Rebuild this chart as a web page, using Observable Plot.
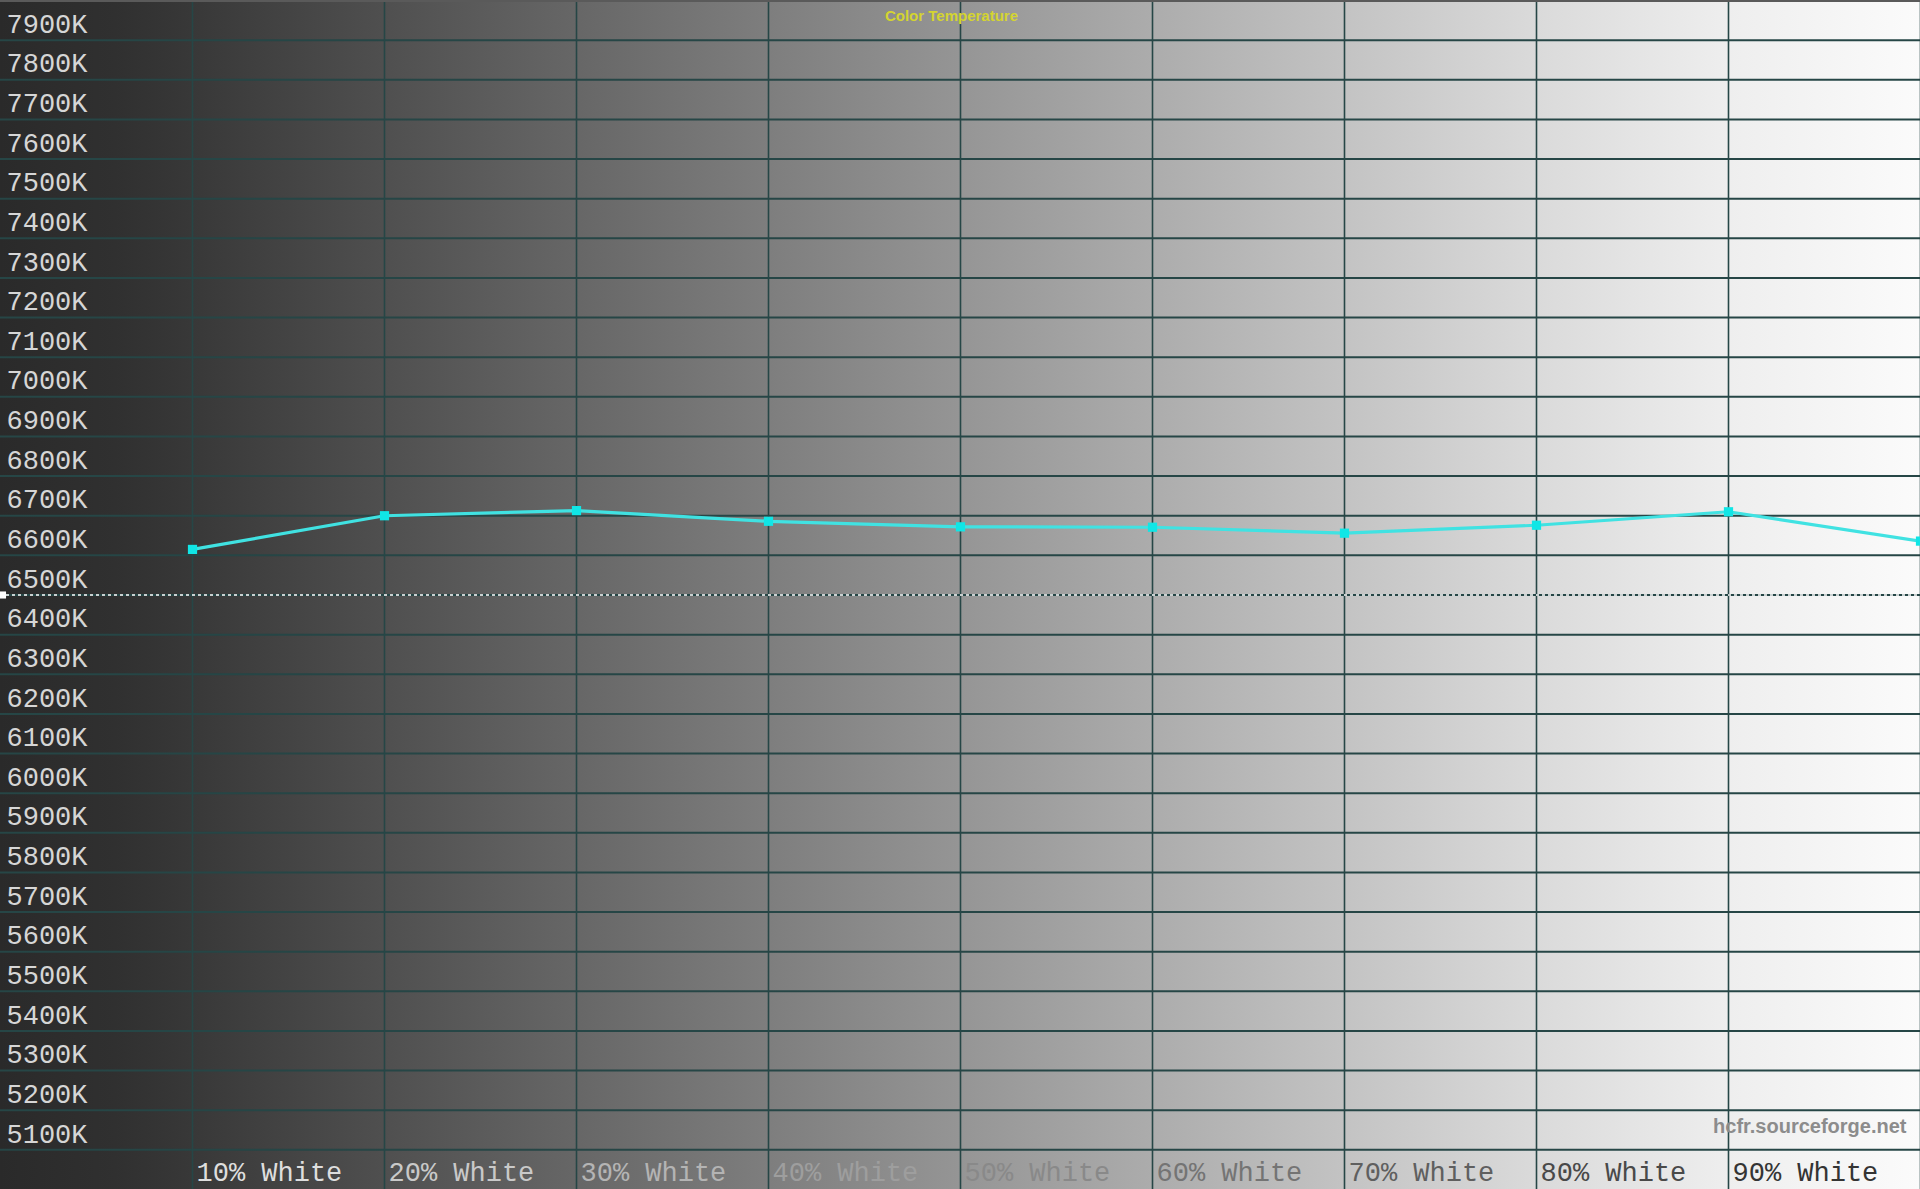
<!DOCTYPE html>
<html>
<head>
<meta charset="utf-8">
<script src="https://cdn.jsdelivr.net/npm/d3@7"></script>
<script src="https://cdn.jsdelivr.net/npm/@observablehq/plot@0.6"></script>
<style>
  html, body { margin: 0; padding: 0; overflow: hidden; background: #2a2a2a; }
  #chart svg { display: block; }
</style>
</head>
<body>
<div id="chart"></div>
<script>
// ---- data ----
const steps = [10, 20, 30, 40, 50, 60, 70, 80, 90, 100];           // % white
const colorTemp = [6615, 6700, 6713, 6686, 6672, 6671, 6656, 6676, 6710, 6636]; // K
const xLabels = ["10% White", "20% White", "30% White", "40% White", "50% White",
                 "60% White", "70% White", "80% White", "90% White"];
const yTicks = [5100, 5200, 5300, 5400, 5500, 5600, 5700, 5800, 5900, 6000,
                6100, 6200, 6300, 6400, 6500, 6600, 6700, 6800, 6900, 7000,
                7100, 7200, 7300, 7400, 7500, 7600, 7700, 7800, 7900];
const refTemp = 6500;
const title = "Color Temperature";
const watermark = "hcfr.sourceforge.net";

const pts = steps.map((s, i) => ({step: s, temp: colorTemp[i]}));
const xLab = xLabels.map((t, i) => ({label: t, step: steps[i]}));

const W = 1920, H = 1189;
const grid = "#264646";
const mono = "'Liberation Mono', 'DejaVu Sans Mono', monospace";
const labelFill = (d, i) => d3.interpolateRgb("#dedede", "#343434")(i / 8);

const plot = Plot.plot({
  width: W,
  height: H,
  margin: 0,
  x: {type: "linear", domain: [0, 100], range: [0, W], axis: null},
  y: {type: "linear", domain: [5000, 8000], range: [H, 0], axis: null},
  color: {type: "identity"},
  style: {
    background: "linear-gradient(to right, #2a2a2a 0%, #303030 6%, #383838 10%, #959595 50%, #dadada 80%, #eeeeee 90%, #fbfbfb 100%)",
    overflow: "hidden"
  },
  marks: [
    Plot.ruleY(yTicks, {y: d => d, stroke: grid, strokeWidth: 2}),
    Plot.ruleX(steps, {x: d => d, stroke: grid, strokeWidth: 1.6}),
    Plot.ruleY([8000], {stroke: "#5a5a5a", strokeWidth: 3}),
    Plot.ruleY([refTemp], {stroke: "#ffffff", strokeWidth: 1.6, strokeDasharray: "3,3"}),
    Plot.dot([refTemp], {x: 0, y: d => d, symbol: "square", r: 4, fill: "#ffffff", dx: 2}),
    Plot.text(yTicks, {
      y: d => d, x: 0, text: d => `${d}K`, textAnchor: "start", lineAnchor: "middle",
      dx: 6, dy: -16, fill: "#d6d6d6", fontFamily: mono, fontSize: 27
    }),
    Plot.text(xLab, {
      x: "step", y: 5000, text: "label", textAnchor: "start", lineAnchor: "middle",
      dx: 4, dy: -17, fill: labelFill, fontFamily: mono, fontSize: 27
    }),
    Plot.line(pts, {x: "step", y: "temp", stroke: "#40e2e2", strokeWidth: 3.2}),
    Plot.dot(pts, {x: "step", y: "temp", symbol: "square", r: 5.2, fill: "#10e6e6", stroke: "none"}),
    Plot.text([title], {
      frameAnchor: "top", text: d => d, dx: -9, dy: 16, lineAnchor: "middle",
      fill: "#d4d430", fontFamily: "'Liberation Sans', Arial, sans-serif", fontWeight: "bold", fontSize: 15
    }),
    Plot.text([watermark], {
      frameAnchor: "bottom-right", text: d => d, dx: -14, dy: -63, lineAnchor: "middle",
      fill: "#8c8c8c", fontFamily: "'Liberation Sans', Arial, sans-serif", fontWeight: "bold", fontSize: 20
    })
  ]
});
document.getElementById("chart").appendChild(plot);
</script>
</body>
</html>
